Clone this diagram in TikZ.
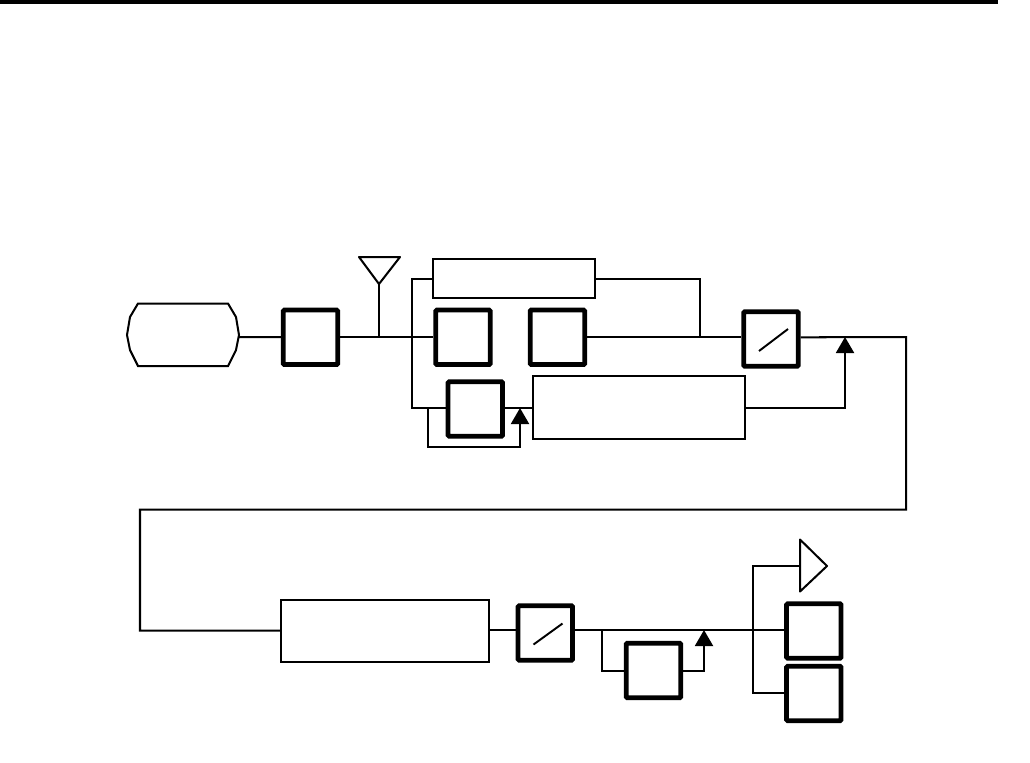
\documentclass[tikz,border=0pt]{standalone}
\usepackage{tikz}
\usetikzlibrary{arrows.meta,positioning}

\begin{document}
\begin{tikzpicture}[
  x=0.02cm, y=-0.02cm,
  node distance=3cm,
  every node/.style={rectangle, draw, inner sep=0pt},
  block/.style={line width=2.7pt, minimum size=1.09cm, rounded corners=0.6pt},
  panel/.style={line width=1.15pt},
  link/.style={line width=1.15pt},
  feed/.style={-{Triangle[length=0.32cm, width=0.36cm]}, line width=1.15pt}
]
  \useasboundingbox (0,0) rectangle (1030,762);
  \fill (0,0) rectangle (998,4);

  % source with bevelled ends
  \draw[link] (138,303.5) -- (228,303.5) -- (236,317) -- (239,335) -- (236,350)
    -- (228,366) -- (138,366) -- (130,350) -- (127,335) -- (130,317) -- cycle;
  \coordinate (src) at (239,337);

  % upper row
  \node[block] (filt) at (310.5,337.3) {};
  \node[block] (rxa) [right of=filt, node distance=3.05cm] {};
  \node[block] (rxb) [right of=rxa, node distance=1.89cm] {};
  \node[block] (sw1) at (771,339) {};
  \node[panel, minimum width=3.24cm, minimum height=0.79cm] (ctrl) at (514,278.7) {};
  \node[block] (loopa) at (475.3,409) {};
  \node[panel, minimum width=4.24cm, minimum height=1.27cm] (proc) at (639,407.7) {};

  % lower row
  \node[panel, minimum width=4.16cm, minimum height=1.25cm] (eq) at (385,631) {};
  \node[block] (sw2) at (545.3,633) {};
  \node[block] (loopb) at (653.5,670.5) {};
  \node[block] (outa) at (813.8,631) {};
  \node[block] (outb) [below of=outa, node distance=1.25cm] {};

  % aerial and speaker
  \coordinate (ant) at (379,284);
  \draw[link, line join=round] (359,257) -- (400,257) -- (ant) -- cycle;
  \coordinate (spk) at (800,566);
  \draw[link, line join=round] (800,539.5) -- (827,566) -- (800,591.5) -- cycle;

  \draw[line width=1.1pt] (759,351) -- (788,329);
  \draw[line width=1.1pt] (533.5,644.5) -- (562.5,623.5);

  % junctions
  \coordinate (tap) at (379,337);
  \coordinate (fork) at (412,337);
  \coordinate (join) at (700,337);
  \coordinate (sum) at (845,337);
  \coordinate (turn) at (906,337);
  \coordinate (lowr) at (906,509.5);
  \coordinate (lowl) at (140,509.5);
  \coordinate (lowb) at (140,630.5);
  \coordinate (tapb) at (601.7,630);
  \coordinate (sumb) at (704,630);
  \coordinate (bus) at (752.7,630);

  \draw[link] (src) -- (filt);
  \draw[link] (filt) -- (rxa);
  \draw[link] (ant) -- (tap);
  \draw[link] (ctrl.west) -- (ctrl.west -| fork) -- (proc.west -| fork) -- (proc.west -| loopa.west);
  \draw[link] (ctrl.east) -- (ctrl.east -| join) -- (join);
  \draw[link] (rxb) -- (rxb -| sw1.west);
  \draw[link] (rxb -| sw1.east) -- (turn) -- (lowr) -- (lowl) -- (lowb) -- (lowb -| eq.west);
  \draw[link] (proc.west -| loopa.east) -- (proc.west);
  \draw[feed] (proc.east) -- (proc.east -| sum) -- (sum);

  \coordinate (loopl) at (428,408);
  \coordinate (loopr) at (520,408);
  \draw[feed] (loopl) -- ++(0,38.5) -| (loopr);

  \draw[link] (eq.east |- tapb) -- (tapb -| sw2.west);
  \draw[link] (tapb -| sw2.east) -- (tapb -| outa.west);
  \draw[link] (tapb) |- (loopb.west);
  \draw[feed] (loopb.east) -| (sumb);
  \draw[link] (spk) -| (bus) -- ++(0,63.3) -- ++(32,0);
\end{tikzpicture}
\end{document}
